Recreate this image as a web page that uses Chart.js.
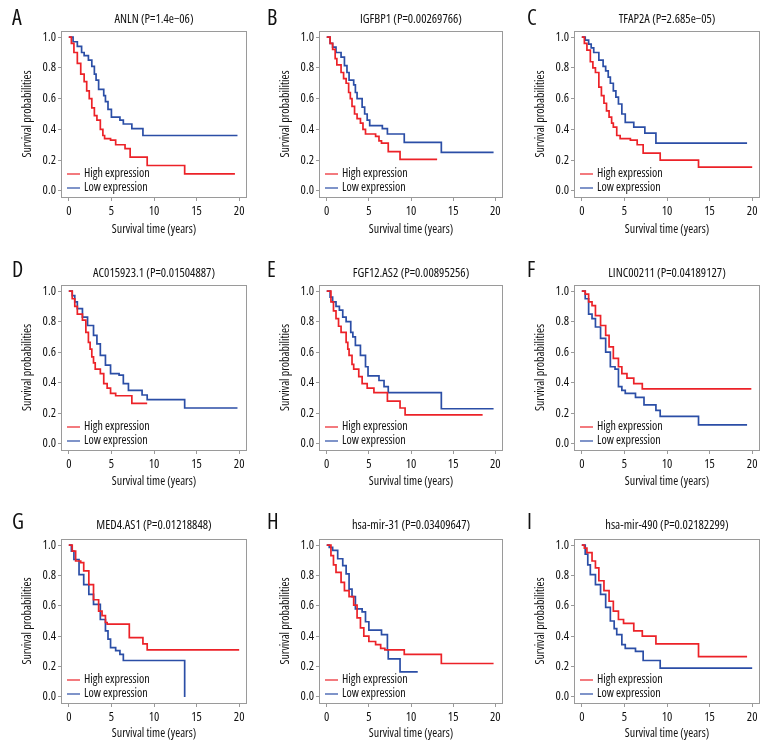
<!DOCTYPE html>
<html>
<head>
<meta charset="utf-8">
<script src="https://cdn.jsdelivr.net/npm/chart.js@4.4.1/dist/chart.umd.min.js"></script>
<style>
    html, body { margin: 0; padding: 0; background: #fff; }
    #grid { position: relative; width: 780px; height: 756px; }
    #grid canvas { position: absolute; }
</style>
</head>
<body>
<div id="grid"></div>
<script>
// panel labels and titles
const panelLetters = ['A', 'B', 'C', 'D', 'E', 'F', 'G', 'H', 'I'];
const geneTitles = [
    'ANLN (P=1.4e\u221206)',
    'IGFBP1 (P=0.00269766)',
    'TFAP2A (P=2.685e\u221205)',
    'AC015923.1 (P=0.01504887)',
    'FGF12.AS2 (P=0.00895256)',
    'LINC00211 (P=0.04189127)',
    'MED4.AS1 (P=0.01218848)',
    'hsa-mir-31 (P=0.03409647)',
    'hsa-mir-490 (P=0.02182299)'
];
const groupLabels = ['High expression', 'Low expression'];
const xTicks = [0, 5, 10, 15, 20];
const yTicks = [0, 0.2, 0.4, 0.6, 0.8, 1.0];

// survival curves: [time (years), survival probability]
const anlnHigh = [[0,1],[0.3,0.96],[0.6,0.9],[1.0,0.83],[1.4,0.76],[1.8,0.71],[2.1,0.65],[2.4,0.6],[2.7,0.54],[3.0,0.49],[3.3,0.46],[3.7,0.4],[4.0,0.36],[4.2,0.34],[4.9,0.33],[5.5,0.3],[6.6,0.275],[7.2,0.22],[9.2,0.165],[13.6,0.11],[19.5,0.11]];
const anlnLow = [[0,1],[0.5,0.97],[1.0,0.94],[1.5,0.9],[1.8,0.88],[2.3,0.85],[2.7,0.81],[3.0,0.76],[3.2,0.72],[3.5,0.66],[4.1,0.62],[4.3,0.58],[4.6,0.53],[5.0,0.48],[6.0,0.46],[6.4,0.435],[7.4,0.405],[8.7,0.36],[19.8,0.36]];
const igfbp1High = [[0,1],[0.4,0.96],[0.7,0.92],[1.0,0.86],[1.2,0.82],[1.7,0.77],[2.0,0.73],[2.3,0.7],[2.6,0.64],[2.8,0.6],[3.0,0.55],[3.3,0.5],[3.6,0.47],[4.0,0.44],[4.3,0.4],[4.6,0.37],[5.8,0.355],[6.2,0.325],[6.5,0.31],[7.3,0.255],[8.7,0.205],[13.1,0.205]];
const igfbp1Low = [[0,1],[0.4,0.96],[0.7,0.935],[1.1,0.9],[1.7,0.87],[2.1,0.815],[2.4,0.77],[2.65,0.72],[3.2,0.69],[3.4,0.64],[3.6,0.6],[4.2,0.545],[4.5,0.5],[4.8,0.46],[5.1,0.425],[6.6,0.405],[7.2,0.37],[9.2,0.315],[13.6,0.25],[19.8,0.25]];
const tfap2aHigh = [[0,1],[0.3,0.96],[0.6,0.915],[1.0,0.84],[1.3,0.8],[1.6,0.77],[2.0,0.675],[2.3,0.62],[2.6,0.57],[2.9,0.52],[3.2,0.48],[3.5,0.44],[3.7,0.415],[4.1,0.36],[4.5,0.34],[5.7,0.33],[6.5,0.3],[7.2,0.245],[9.2,0.2],[13.7,0.155],[20,0.155]];
const tfap2aLow = [[0,1],[0.4,0.98],[0.8,0.955],[1.1,0.93],[1.4,0.9],[2.0,0.85],[2.5,0.81],[2.8,0.78],[3.1,0.74],[3.35,0.7],[3.7,0.65],[4.0,0.61],[4.3,0.565],[4.7,0.5],[5.1,0.445],[6.1,0.415],[7.4,0.375],[8.7,0.31],[19.4,0.31]];
const ac015923High = [[0,1],[0.4,0.95],[0.7,0.9],[1.0,0.85],[1.6,0.81],[2.0,0.73],[2.3,0.665],[2.5,0.62],[2.7,0.57],[2.9,0.53],[3.1,0.49],[3.7,0.46],[4.1,0.395],[4.5,0.365],[4.9,0.33],[5.5,0.315],[7.4,0.265],[9.2,0.265]];
const ac015923Low = [[0,1],[0.4,0.97],[0.7,0.93],[1.0,0.885],[1.6,0.83],[2.2,0.775],[2.9,0.71],[3.3,0.655],[3.7,0.58],[4.3,0.515],[4.9,0.46],[5.9,0.45],[6.4,0.395],[7.0,0.35],[8.6,0.32],[9.2,0.29],[13.6,0.235],[19.8,0.235]];
const fgf12High = [[0,1],[0.5,0.93],[0.8,0.87],[1.1,0.82],[1.4,0.77],[1.7,0.73],[2.3,0.665],[2.5,0.62],[2.65,0.58],[3.0,0.52],[3.2,0.49],[3.8,0.44],[4.2,0.395],[4.8,0.365],[5.6,0.335],[7.2,0.28],[8.7,0.235],[9.3,0.19],[18.5,0.19]];
const fgf12Low = [[0,1],[0.4,0.96],[0.7,0.93],[1.1,0.9],[1.5,0.875],[1.9,0.83],[2.3,0.8],[2.85,0.73],[3.1,0.7],[3.4,0.645],[4.0,0.58],[4.6,0.505],[4.9,0.445],[6.2,0.415],[6.8,0.375],[7.3,0.335],[13.6,0.23],[19.8,0.23]];
const linc00211High = [[0,1],[0.4,0.98],[0.8,0.93],[1.2,0.905],[1.6,0.84],[2.2,0.775],[2.8,0.71],[3.2,0.635],[3.7,0.56],[4.3,0.505],[4.7,0.46],[5.3,0.43],[6.1,0.395],[7.1,0.36],[19.9,0.36]];
const linc00211Low = [[0,1],[0.4,0.95],[0.8,0.85],[1.2,0.82],[1.6,0.765],[2.2,0.69],[2.8,0.6],[3.35,0.505],[3.9,0.49],[4.3,0.375],[4.7,0.35],[5.1,0.33],[6.3,0.305],[7.3,0.255],[8.7,0.22],[9.2,0.18],[13.7,0.125],[19.4,0.125]];
const med4High = [[0,1],[0.4,0.96],[0.8,0.895],[1.4,0.885],[1.75,0.83],[2.35,0.74],[2.9,0.64],[3.5,0.565],[3.9,0.535],[4.3,0.49],[4.5,0.48],[7.1,0.39],[8.7,0.35],[9.2,0.31],[20,0.31]];
const med4Low = [[0,1],[0.3,0.96],[0.6,0.905],[1.2,0.805],[1.75,0.74],[2.35,0.675],[2.9,0.61],[3.7,0.51],[4.3,0.435],[4.6,0.38],[4.9,0.325],[5.5,0.305],[6.0,0.28],[6.4,0.24],[13.6,0]];
const mir31High = [[0,1],[0.5,0.93],[0.8,0.87],[1.1,0.82],[1.7,0.755],[2.1,0.7],[2.65,0.66],[3.2,0.605],[3.6,0.52],[4.0,0.455],[4.4,0.4],[5.0,0.365],[5.8,0.345],[6.4,0.32],[6.9,0.31],[9.2,0.28],[13.6,0.22],[19.8,0.22]];
const mir31Low = [[0,1],[0.3,0.985],[0.7,0.965],[1.3,0.91],[1.9,0.865],[2.3,0.81],[2.65,0.71],[3.0,0.66],[3.4,0.58],[4.2,0.56],[4.6,0.495],[5.0,0.44],[6.5,0.41],[7.2,0.31],[7.3,0.25],[8.7,0.165],[10.8,0.165]];
const mir490High = [[0,1],[0.3,0.98],[0.6,0.95],[1.2,0.895],[1.6,0.85],[2.0,0.765],[2.6,0.7],[3.2,0.63],[3.7,0.565],[4.3,0.51],[4.9,0.485],[6.1,0.435],[7.1,0.4],[8.7,0.35],[13.7,0.265],[19.4,0.265]];
const mir490Low = [[0,1],[0.4,0.94],[0.7,0.87],[1.0,0.805],[1.6,0.74],[2.2,0.675],[2.8,0.59],[3.35,0.5],[3.8,0.45],[4.1,0.41],[4.7,0.345],[5.1,0.32],[6.3,0.3],[7.2,0.24],[9.2,0.19],[20,0.19]];

const highCurves = [anlnHigh, igfbp1High, tfap2aHigh, ac015923High, fgf12High, linc00211High, med4High, mir31High, mir490High];
const lowCurves = [anlnLow, igfbp1Low, tfap2aLow, ac015923Low, fgf12Low, linc00211Low, med4Low, mir31Low, mir490Low];

// Open Sans is a width-variable font here, 'condensed' gives the narrow look
const FAMILY = '"Open Sans", sans-serif';
const STRETCH = 'condensed';
const RED = '#ec2228';
const BLUE = '#2b4ea6';
const FRAME = '#9a9a9a';
const INK = '#111';

// plot box inside each 260x252 cell
const boxLeft = [62, 60, 55];
const boxRight = [246, 242, 239];
const boxTop = [31, 33, 35];
const boxBottom = [197, 198, 199];

const f = size => STRETCH + ' ' + size + 'px ' + FAMILY;

// draws the frame, panel letter, title and inset legend
const panelDecor = {
    id: 'panelDecor',
    afterDraw(chart, args, opts) {
        const {ctx, chartArea} = chart;
        ctx.save();
        ctx.strokeStyle = FRAME;
        ctx.lineWidth = 1;
        ctx.strokeRect(Math.round(chartArea.left) - 0.5, Math.round(chartArea.top) + 0.5,
            Math.round(chartArea.right - chartArea.left) + 1, Math.round(chartArea.bottom - chartArea.top));

        ctx.fillStyle = INK;
        ctx.textBaseline = 'middle';
        ctx.font = f(22);
        ctx.textAlign = 'left';
        ctx.fillText(opts.letter, opts.letterX, 19);

        ctx.font = f(12.5);
        ctx.textAlign = 'center';
        ctx.fillText(opts.title, (chartArea.left + chartArea.right) / 2, 19 + opts.titleShift);

        // legend
        ctx.font = f(12);
        ctx.textAlign = 'left';
        chart.data.datasets.forEach((ds, i) => {
            const y = chartArea.bottom - 23 + i * 14;
            ctx.strokeStyle = ds.borderColor;
            ctx.lineWidth = 1.2;
            ctx.beginPath();
            ctx.moveTo(chartArea.left + 5, y);
            ctx.lineTo(chartArea.left + 18, y);
            ctx.stroke();
            ctx.fillStyle = INK;
            ctx.fillText(ds.label, chartArea.left + 22, y);
        });
        ctx.restore();
    }
};

const grid = document.getElementById('grid');

for (let p = 0; p < 9; p++) {
    const col = p % 3;
    const row = Math.floor(p / 3);
    const canvas = document.createElement('canvas');
    canvas.width = 260;
    canvas.height = 252;
    canvas.style.left = (col * 260) + 'px';
    canvas.style.top = (row * 252) + 'px';
    grid.appendChild(canvas);

    const yWidth = boxLeft[col];
    const xHeight = 252 - boxBottom[row];
    const tickFont = {family: FAMILY, weight: STRETCH, size: 12.5};
    const titleFont = {family: FAMILY, weight: STRETCH, size: 12};

    new Chart(canvas.getContext('2d'), {
        type: 'line',
        data: {
            datasets: [
                {
                    label: groupLabels[0],
                    data: highCurves[p].map(d => ({x: d[0], y: d[1]})),
                    borderColor: RED,
                    borderWidth: 1.7,
                    pointRadius: 0,
                    stepped: true,
                    fill: false
                },
                {
                    label: groupLabels[1],
                    data: lowCurves[p].map(d => ({x: d[0], y: d[1]})),
                    borderColor: BLUE,
                    borderWidth: 1.7,
                    pointRadius: 0,
                    stepped: true,
                    fill: false
                }
            ]
        },
        options: {
            responsive: false,
            animation: false,
            devicePixelRatio: 1,
            layout: {
                padding: {top: boxTop[row], right: 260 - boxRight[col], left: 0, bottom: 0}
            },
            scales: {
                x: {
                    type: 'linear',
                    min: -0.8,
                    max: 20.8,
                    afterFit: s => { s.height = xHeight; },
                    afterBuildTicks: s => { s.ticks = xTicks.map(v => ({value: v})); },
                    grid: {drawOnChartArea: false, drawTicks: true, tickLength: 4, color: FRAME},
                    border: {display: false},
                    ticks: {color: INK, font: tickFont, padding: 3, maxRotation: 0},
                    title: {
                        display: true,
                        text: 'Survival time (years)',
                        color: INK,
                        font: titleFont,
                        padding: {top: 0, bottom: 15}
                    }
                },
                y: {
                    type: 'linear',
                    min: -0.04,
                    max: 1.04,
                    afterFit: s => { s.width = yWidth; },
                    afterBuildTicks: s => { s.ticks = yTicks.map(v => ({value: v})); },
                    grid: {drawOnChartArea: false, drawTicks: true, tickLength: 4, color: FRAME},
                    border: {display: false},
                    ticks: {
                        color: INK,
                        font: tickFont,
                        padding: 2,
                        callback: v => v.toFixed(1)
                    },
                    title: {
                        display: true,
                        text: 'Survival probabilities',
                        color: INK,
                        font: titleFont,
                        padding: {top: yWidth - 35 - 7, bottom: 0}
                    }
                }
            },
            plugins: {
                legend: {display: false},
                tooltip: {enabled: false},
                panelDecor: {
                    letter: panelLetters[p],
                    letterX: col === 0 ? 12 : 7,
                    title: geneTitles[p],
                    titleShift: row === 0 ? 0 : 2
                }
            }
        },
        plugins: [panelDecor]
    });
}
</script>
</body>
</html>
